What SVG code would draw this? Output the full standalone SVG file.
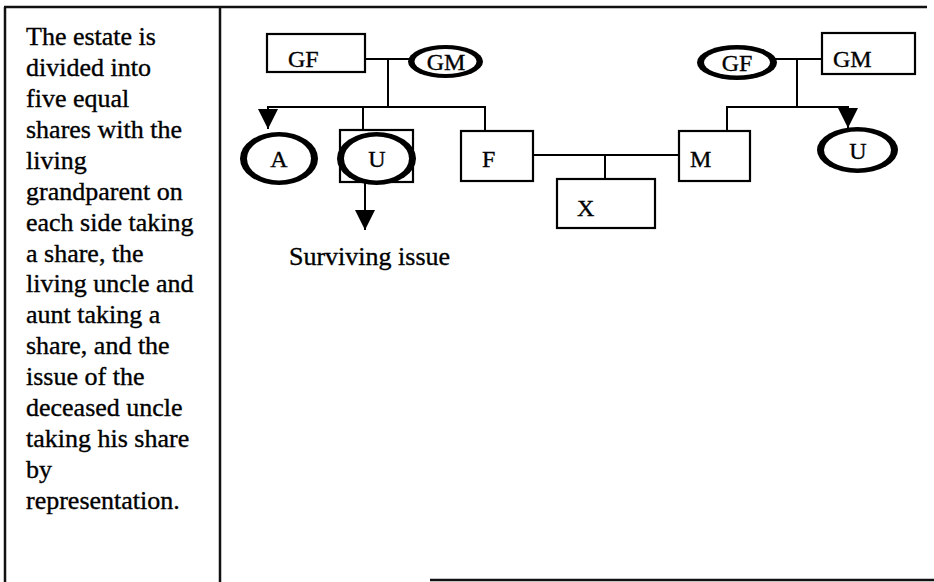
<svg xmlns="http://www.w3.org/2000/svg" width="934" height="582" viewBox="0 0 934 582">
  <style>
    text { font-family: "Liberation Serif", "Times New Roman", serif; fill: #000; stroke: #000; stroke-width: 0.35; }
    .body { font-size: 26px; }
    .lbl { font-size: 24px; }
    .frame { stroke: #111; stroke-width: 2.5; fill: none; }
    .box { fill: #fff; stroke: #000; stroke-width: 2.2; }
    .ring-out { fill: #000; }
    .ring-in { fill: #fff; }
    .wire { stroke: #000; stroke-width: 2; fill: none; }
  </style>
  <defs>
    <marker id="arrow" viewBox="0 0 20 20" refX="20" refY="10" markerWidth="20" markerHeight="20" markerUnits="userSpaceOnUse" orient="auto">
      <path d="M0,0 L20,10 L0,20 z" fill="#000"/>
    </marker>
  </defs>

  <rect width="934" height="582" fill="#fff"/>

  <!-- table frame -->
  <g id="frame">
    <line class="frame" x1="4" y1="7" x2="927" y2="7"/>
    <line class="frame" x1="5" y1="7" x2="5" y2="582"/>
    <line class="frame" x1="220" y1="7" x2="220" y2="582"/>
    <line class="frame" x1="430" y1="580" x2="934" y2="580"/>
  </g>

  <!-- explanatory column -->
  <g id="note">
    <text class="body" x="26" y="45">The estate is</text>
    <text class="body" x="26" y="76">divided into</text>
    <text class="body" x="26" y="107">five equal</text>
    <text class="body" x="26" y="138">shares with the</text>
    <text class="body" x="26" y="169">living</text>
    <text class="body" x="26" y="200">grandparent on</text>
    <text class="body" x="26" y="231">each side taking</text>
    <text class="body" x="26" y="262">a share, the</text>
    <text class="body" x="26" y="292">living uncle and</text>
    <text class="body" x="26" y="323">aunt taking a</text>
    <text class="body" x="26" y="354">share, and the</text>
    <text class="body" x="26" y="385">issue of the</text>
    <text class="body" x="26" y="416">deceased uncle</text>
    <text class="body" x="26" y="447">taking his share</text>
    <text class="body" x="26" y="478">by</text>
    <text class="body" x="26" y="509">representation.</text>
  </g>

  <!-- connectors -->
  <g id="connectors">
    <line class="wire" x1="365" y1="59" x2="411" y2="59"/>
    <line class="wire" x1="388" y1="59" x2="388" y2="107"/>
    <line class="wire" x1="267" y1="107" x2="486" y2="107"/>
    <line class="wire" x1="268" y1="106" x2="268" y2="129" marker-end="url(#arrow)"/>
    <line class="wire" x1="363" y1="107" x2="363" y2="130"/>
    <line class="wire" x1="485" y1="107" x2="485" y2="131"/>
    <line class="wire" x1="365" y1="182" x2="365" y2="230" marker-end="url(#arrow)"/>
    <line class="wire" x1="533" y1="155" x2="679" y2="155"/>
    <line class="wire" x1="605" y1="155" x2="605" y2="179"/>
    <line class="wire" x1="775" y1="59" x2="822" y2="59"/>
    <line class="wire" x1="797" y1="59" x2="797" y2="107"/>
    <line class="wire" x1="726" y1="107" x2="849" y2="107"/>
    <line class="wire" x1="727" y1="107" x2="727" y2="131"/>
    <line class="wire" x1="848" y1="106" x2="848" y2="128" marker-end="url(#arrow)"/>
  </g>

  <!-- paternal side -->
  <g id="gf-paternal">
    <rect class="box" x="267" y="34" width="98" height="38"/>
    <text class="lbl" x="288" y="67">GF</text>
  </g>
  <g id="gm-paternal">
    <ellipse class="ring-out" cx="445.5" cy="61.5" rx="37.5" ry="16.5"/>
    <ellipse class="ring-in" cx="445.5" cy="61.5" rx="31" ry="12.5"/>
    <text class="lbl" x="446" y="70" text-anchor="middle">GM</text>
  </g>
  <g id="aunt">
    <ellipse class="ring-out" cx="279" cy="158.5" rx="39" ry="26.5"/>
    <ellipse class="ring-in" cx="279" cy="158.5" rx="32" ry="22"/>
    <text class="lbl" x="279" y="167" text-anchor="middle">A</text>
  </g>
  <g id="uncle-deceased">
    <rect class="box" x="340" y="130" width="73" height="52"/>
    <ellipse class="ring-out" cx="376.5" cy="158.5" rx="39.5" ry="26.5"/>
    <ellipse class="ring-in" cx="376.5" cy="158.5" rx="32.5" ry="22"/>
    <text class="lbl" x="377" y="167" text-anchor="middle">U</text>
  </g>
  <g id="father">
    <rect class="box" x="461" y="131" width="72" height="50"/>
    <text class="lbl" x="482" y="167">F</text>
  </g>
  <g id="issue">
    <text class="body" x="289" y="265">Surviving issue</text>
  </g>

  <!-- intestate -->
  <g id="x">
    <rect class="box" x="557" y="179" width="98" height="49"/>
    <text class="lbl" x="577" y="216">X</text>
  </g>

  <!-- maternal side -->
  <g id="mother">
    <rect class="box" x="679" y="131" width="71" height="50"/>
    <text class="lbl" x="690" y="167">M</text>
  </g>
  <g id="gf-maternal">
    <ellipse class="ring-out" cx="737" cy="62.5" rx="40" ry="17.5"/>
    <ellipse class="ring-in" cx="737" cy="62.5" rx="33" ry="13"/>
    <text class="lbl" x="737" y="71" text-anchor="middle">GF</text>
  </g>
  <g id="gm-maternal">
    <rect class="box" x="822" y="33" width="93" height="41"/>
    <text class="lbl" x="833" y="67">GM</text>
  </g>
  <g id="uncle-living">
    <ellipse class="ring-out" cx="857.5" cy="150" rx="40.5" ry="23"/>
    <ellipse class="ring-in" cx="857.5" cy="150" rx="33.5" ry="18.5"/>
    <text class="lbl" x="858" y="158.5" text-anchor="middle">U</text>
  </g>
</svg>
